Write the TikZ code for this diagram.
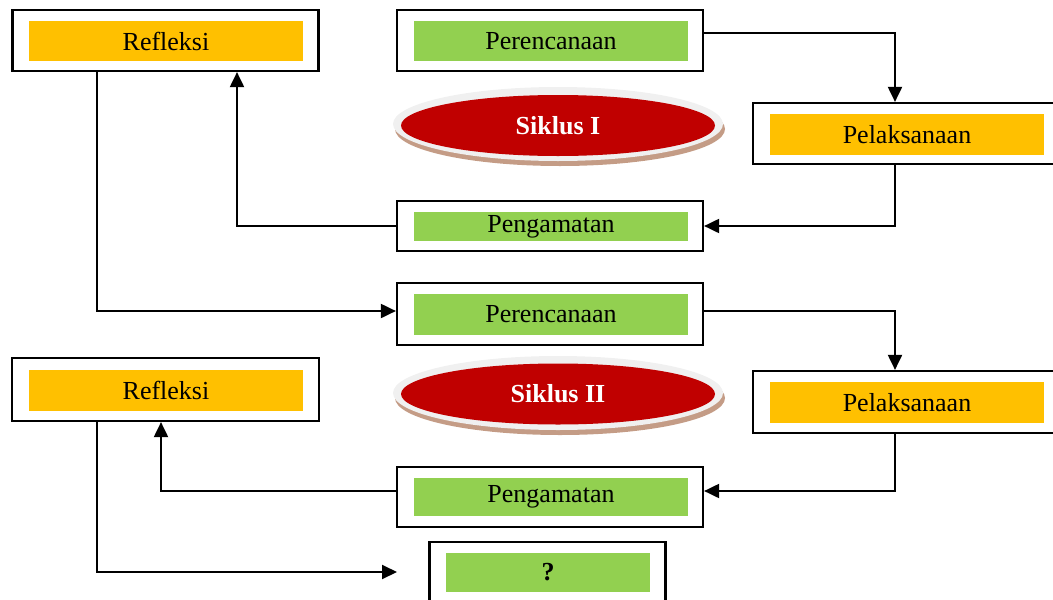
\documentclass[tikz,border=0pt]{standalone}
\usepackage{fontspec}
\setmainfont{Liberation Serif}
\usetikzlibrary{arrows.meta,shapes.geometric}
\definecolor{orangefill}{HTML}{FFC000}
\definecolor{greenfill}{HTML}{92D050}
\definecolor{redfill}{HTML}{C00000}
\definecolor{rimgray}{HTML}{F0F0F0}
\definecolor{shadowbrown}{HTML}{C49C86}
\begin{document}
\begin{tikzpicture}[x=1pt,y=-1pt,
  outerbox/.style={draw=black, line width=2.2pt, fill=white, inner sep=0pt, minimum width=306pt},
  innerbox/.style={inner sep=0pt, minimum width=274pt, font=\fontsize{26}{30}\selectfont},
  orangebox/.style={innerbox, fill=orangefill},
  greenbox/.style={innerbox, fill=greenfill},
  conn/.style={line width=2pt, draw=black},
  arr/.style={conn, -{Triangle[length=15pt,width=14pt]}},
  siklus/.style={ellipse, inner sep=0pt, fill=redfill, text=white, font=\fontsize{26}{30}\selectfont\bfseries, minimum width=314pt, minimum height=61pt}
]
\path[use as bounding box, clip] (0,0) rectangle (1053,600);

% ----- Siklus I -----
\fill[shadowbrown] (560,129) ellipse [x radius=165, y radius=37];
\fill[rimgray] (558,124) ellipse [x radius=165, y radius=37];
\node[siklus] (s1) at (558,125.5) {Siklus I};

% ----- Siklus II -----
\fill[shadowbrown] (560,398) ellipse [x radius=165, y radius=37];
\fill[rimgray] (558,393) ellipse [x radius=165, y radius=37];
\node[siklus] (s2) at (558,394) {Siklus II};

% ----- Boxes -----
\node[outerbox, minimum height=61pt] (ref1) at (165.5,40.5) {};
\node[orangebox, minimum height=40pt] (ref1t) at (166,41) {Refleksi};

\node[outerbox, minimum height=61pt] (per1) at (550,40.5) {};
\node[greenbox, minimum height=40pt] (per1t) at (551,41) {Perencanaan};

\node[outerbox, minimum width=307pt, minimum height=61pt] (pel1) at (906.5,133.5) {};
\node[orangebox, minimum height=41pt] (pel1t) at (907,134.5) {Pelaksanaan};

\node[outerbox, minimum height=50pt] (pen1) at (550,226) {};
\node[greenbox, minimum height=29pt] (pen1t) at (551,226.5) {Pengamatan};

\node[outerbox, minimum height=62pt] (per2) at (550,314) {};
\node[greenbox, minimum height=41pt] (per2t) at (551,314.5) {Perencanaan};

\node[outerbox, minimum width=307pt, minimum height=63pt] (ref2) at (165.5,389.5) {};
\node[orangebox, minimum height=41pt] (ref2t) at (166,390.5) {Refleksi};

\node[outerbox, minimum width=307pt, minimum height=62pt] (pel2) at (906.5,402) {};
\node[orangebox, minimum height=41pt] (pel2t) at (907,402.5) {Pelaksanaan};

\node[outerbox, minimum height=60pt] (pen2) at (550,497) {};
\node[greenbox, minimum height=38pt] (pen2t) at (551,497) {Pengamatan};

\node[outerbox, minimum width=236pt, minimum height=62pt] (q) at (547.5,573) {};
\node[greenbox, minimum width=204pt, minimum height=39pt, font=\fontsize{26}{30}\selectfont\bfseries] (qt) at (548,572.5) {?};

% ----- Bend points -----
\coordinate (c1) at (895,33);
\coordinate (c2) at (895,226);
\coordinate (c3) at (237,226);
\coordinate (c4) at (97,311);
\coordinate (c5) at (895,311);
\coordinate (c6) at (895,491);
\coordinate (c7) at (161,491);
\coordinate (c8) at (97,572);
\coordinate (qend) at (397,572);

% ----- Connectors -----
\draw[arr] (per1.east |- c1) -- (c1) -- (pel1.north -| c1);
\draw[arr] (pel1.south -| c2) -- (c2) -- (pen1.east |- c2);
\draw[arr] (pen1.west |- c3) -- (c3) -- (ref1.south -| c3);
\draw[arr] (ref1.south -| c4) -- (c4) -- (per2.west |- c4);
\draw[arr] (per2.east |- c5) -- (c5) -- (pel2.north -| c5);
\draw[arr] (pel2.south -| c6) -- (c6) -- (pen2.east |- c6);
\draw[arr] (pen2.west |- c7) -- (c7) -- (ref2.south -| c7);
\draw[arr] (ref2.south -| c8) -- (c8) -- (qend);
\end{tikzpicture}
\end{document}
